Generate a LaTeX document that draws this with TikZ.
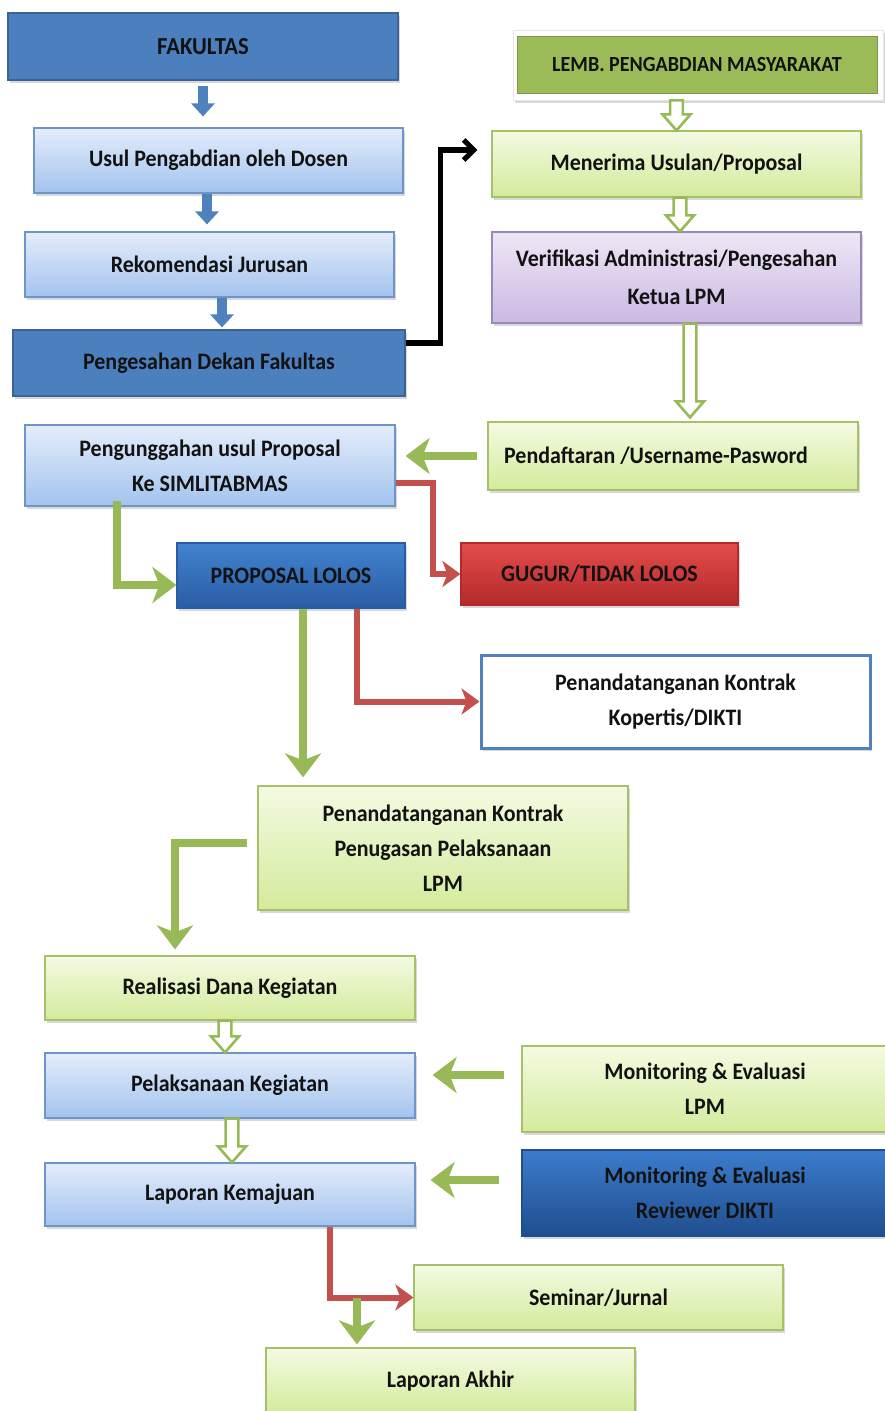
\documentclass[tikz,border=0pt]{standalone}
\usepackage{fontspec}
\setmainfont{Carlito}[FakeStretch=0.93]
\usetikzlibrary{arrows.meta,calc,shadows}
\definecolor{txt}{HTML}{121212}
\definecolor{dkB}{HTML}{4C7FBE}
\definecolor{dkBd}{HTML}{3A6396}
\definecolor{lbT}{HTML}{E4EDFB}
\definecolor{lbB}{HTML}{A3C3EE}
\definecolor{lbD}{HTML}{6F94C6}
\definecolor{lgT}{HTML}{F4FAE2}
\definecolor{lgB}{HTML}{D3EB9C}
\definecolor{lgD}{HTML}{A6C169}
\definecolor{lvT}{HTML}{EEE7F6}
\definecolor{lvB}{HTML}{CBB9E2}
\definecolor{lvD}{HTML}{9A87BC}
\definecolor{grH}{HTML}{9BBB59}
\definecolor{mbT}{HTML}{4283D0}
\definecolor{mbB}{HTML}{2A5CA4}
\definecolor{rdT}{HTML}{E44C4C}
\definecolor{rdB}{HTML}{B42A2A}
\definecolor{dbT}{HTML}{3C7CCC}
\definecolor{dbB}{HTML}{1F4E8E}
\definecolor{grn}{HTML}{97B956}
\definecolor{rda}{HTML}{C4504D}
\definecolor{bla}{HTML}{4F81BD}
\newcommand\bx[7]{\node[#6, minimum width={(#4-#2)*0.5pt}, minimum height={(#5-#3)*0.5pt}] (#1) at ({(#2+#4)/2},{(#3+#5)/2}) {#7};}
\newcommand\hol[2]{\path[hol] let \p1=(#1), \p2=(#2) in (\x1-3.2pt,\y1) -- (\x1+3.2pt,\y1) -- (\x1+3.2pt,\y2+8pt) -- (\x1+7pt,\y2+8pt) -- (\x1,\y2) -- (\x1-7pt,\y2+8pt) -- (\x1-3.2pt,\y2+8pt) -- cycle;}
\tikzset{
  box/.style={draw, line width=0.6pt, align=center, text=txt, inner sep=1pt,
    font=\bfseries\fontsize{11.8}{17.5}\selectfont,
    drop shadow={shadow xshift=1.2pt, shadow yshift=-1.6pt, opacity=0.3}},
  dkblue/.style={box, draw=dkBd, fill=dkB},
  lblue/.style={box, draw=lbD, top color=lbT, bottom color=lbB},
  lgreen/.style={box, draw=lgD, top color=lgT, bottom color=lgB},
  lav/.style={box, draw=lvD, top color=lvT, bottom color=lvB},
  medblue/.style={box, draw=mbB, top color=mbT, bottom color=mbB},
  redbox/.style={box, draw=rdB, top color=rdT, bottom color=rdB},
  dkgrad/.style={box, draw=dbB, top color=dbT, bottom color=dbB},
  whitebox/.style={box, draw=bla, line width=1.5pt, fill=white},
  frame/.style={draw=white!90!black, line width=0.4pt, fill=white,
    drop shadow={shadow xshift=1.2pt, shadow yshift=-1.6pt, opacity=0.3}},
  head/.style={fill=grH, draw=grH!80!black, line width=0.4pt, text=txt,
    font=\bfseries\fontsize{10.8}{12}\selectfont},
  garr/.style={draw=grn, line width=4pt, -{Stealth[length=12pt, width=18pt, inset=3.5pt]}},
  rarr/.style={draw=rda, line width=3pt, -{Stealth[length=9pt, width=13pt, inset=2.5pt]}},
  barr/.style={draw=bla, line width=5pt, -{Triangle[length=6.5pt, width=11.5pt]}},
  karr/.style={draw=black, line width=2.6pt, line join=miter, -{Straight Barb[length=5pt, width=10pt, line width=2.6pt]}},
  hol/.style={draw=grn, line width=1.3pt, fill=white, line join=miter},
}
\begin{document}
\begin{tikzpicture}[x=0.5pt, y=-0.5pt]
\useasboundingbox[fill=white] (0,0) rectangle (884,1411);
% boxes
\bx{fak}{8}{13}{398}{80}{dkblue, font=\bfseries\fontsize{12.2}{13}\selectfont}{FAKULTAS}
\bx{usul}{34}{128}{403}{193}{lblue}{Usul Pengabdian oleh Dosen}
\bx{rek}{25}{232}{394}{297}{lblue}{Rekomendasi Jurusan}
\bx{peng}{13}{330}{405}{396}{dkblue}{Pengesahan Dekan Fakultas}
\bx{lembf}{513}{30}{883}{100}{frame}{}
\bx{lemb}{517}{36}{877}{93}{head}{LEMB. PENGABDIAN MASYARAKAT}
\bx{men}{492}{131}{861}{197}{lgreen}{Menerima Usulan/Proposal}
\bx{ver}{492}{232}{861}{323}{lav, font=\bfseries\fontsize{11.8}{19}\selectfont}{Verifikasi Administrasi/Pengesahan\\Ketua LPM}
\bx{pend}{488}{422}{858}{490}{lgreen}{Pendaftaran /Username-Pasword\hspace*{17pt}}
\bx{upl}{25}{425}{395}{506}{lblue}{Pengunggahan usul Proposal\\Ke SIMLITABMAS}
\bx{lolos}{177}{543}{405}{608}{medblue}{PROPOSAL LOLOS}
\bx{gugur}{461}{543}{738}{605}{redbox}{GUGUR/TIDAK LOLOS}
\bx{kop}{481}{655}{870}{748}{whitebox}{Penandatanganan Kontrak\\Kopertis/DIKTI}
\bx{kon}{258}{786}{628}{910}{lgreen}{Penandatanganan Kontrak\\Penugasan Pelaksanaan\\LPM}
\bx{real}{45}{956}{415}{1020}{lgreen}{Realisasi Dana Kegiatan}
\bx{pel}{45}{1053}{415}{1118}{lblue}{Pelaksanaan Kegiatan}
\bx{mon1}{522}{1046}{888}{1132}{lgreen}{Monitoring \& Evaluasi\\LPM}
\bx{lapkem}{45}{1163}{415}{1226}{lblue}{Laporan Kemajuan}
\bx{mon2}{522}{1150}{888}{1236}{dkgrad}{Monitoring \& Evaluasi\\Reviewer DIKTI}
\bx{sem}{414}{1265}{783}{1330}{lgreen}{Seminar/Jurnal}
\bx{akhir}{266}{1348}{635}{1414}{lgreen}{Laporan Akhir}
% blue arrows
\draw[barr, shorten <=2.5pt, shorten >=5.5pt] (fak.south) -- (fak.south |- usul.north);
\coordinate (u1) at ([xshift=-5.75pt]usul.south);
\draw[barr, shorten >=3.5pt] (u1) -- (u1 |- rek.north);
\coordinate (r1) at ([xshift=6.25pt]rek.south);
\draw[barr, shorten >=1pt] (r1) -- (r1 |- peng.north);
% black arrow
\draw[karr] ([yshift=10pt]peng.east) -- ++(35,0) |- ([xshift=-7pt,yshift=7pt]men.west);
% hollow arrows
\coordinate (h1) at (men.north |- lembf.south);
\hol{h1}{men.north}
\coordinate (h2) at ([xshift=1.75pt]men.south);
\hol{h2}{h2 |- ver.north}
\coordinate (h3) at ([xshift=6.75pt]ver.south);
\path let \p1=(h3), \p2=(pend.north) in coordinate (h3e) at (\x1,\y2+2pt);
\hol{h3}{h3e}
\coordinate (h4) at ([xshift=-2.5pt]real.south);
\hol{h4}{h4 |- pel.north}
\coordinate (h5) at ([xshift=1pt]pel.south);
\hol{h5}{h5 |- lapkem.north}
% green / red connectors
\draw[garr, shorten <=5pt, shorten >=5pt] (pend.west) -- (pend.west -| upl.east);
\draw[rarr] ([yshift=-8.5pt]upl.east) -- ++(37,0) |- (gugur.west);
\draw[garr] ([xshift=-46.5pt,yshift=3pt]upl.south) |- ([yshift=-4.75pt]lolos.west);
\coordinate (l1) at ([xshift=6pt]lolos.south);
\draw[garr, shorten >=4pt] (l1) -- (l1 |- kon.north);
\draw[rarr] ([xshift=33pt]lolos.south) |- (kop.west);
\draw[garr, shorten >=3pt] ([xshift=-5pt,yshift=2.5pt]kon.west) -| ([xshift=-27.5pt]real.north);
\coordinate (m1) at ([yshift=7pt]mon1.west);
\draw[garr, shorten <=8.5pt, shorten >=8.5pt] (m1) -- (m1 -| pel.east);
\coordinate (m2) at ([yshift=6.5pt]mon2.west);
\draw[garr, shorten <=11pt, shorten >=7.5pt] (m2) -- (m2 -| lapkem.east);
\draw[rarr] ([xshift=50pt]lapkem.south) |- (sem.west);
\coordinate (ak) at ([xshift=-46.75pt]akhir.north);
\draw[garr, shorten >=1.5pt] (ak |- sem.west) -- (ak);
\end{tikzpicture}
\end{document}
